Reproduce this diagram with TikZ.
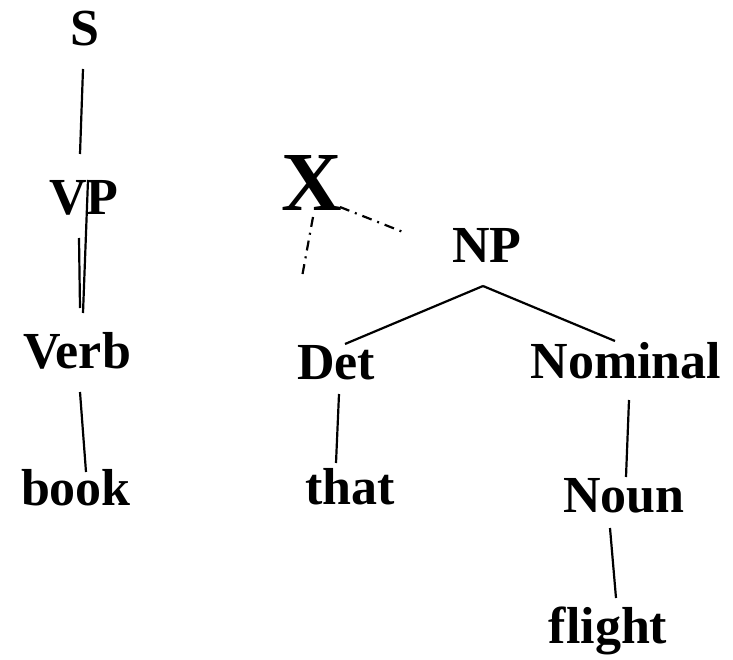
\documentclass[tikz,border=0pt]{standalone}
\usepackage{fontspec}
\setmainfont{Liberation Serif}
\usepackage{tikz}
\usetikzlibrary{calc}

\begin{document}
\begin{tikzpicture}[
  x=1pt, y=-1pt,
  cat/.style={font=\bfseries\fontsize{52}{60}\selectfont, inner sep=0pt, anchor=base},
  bigcat/.style={font=\bfseries\fontsize{84}{90}\selectfont, inner sep=0pt, anchor=base},
  branch/.style={line width=2.2pt, draw=black},
  broken/.style={line width=2.2pt, draw=black, dash pattern=on 10pt off 6pt on 2pt off 6pt}
]
\useasboundingbox (0,0) rectangle (733,660);
\node[cat] (s) at (85,46) {S};
\node[cat] (vp) at (84,215) {VP};
\node[cat] (verb) at (77,368) {Verb};
\node[cat] (book) at (76,505) {book};
\node[bigcat] (x) at (312,211) {X};
\node[cat] (np) at (487,262) {NP};
\node[cat] (det) at (336,379) {Det};
\node[cat] (nominal) at (626,378) {Nominal};
\node[cat] (that) at (350,504) {that};
\node[cat] (noun) at (624,512) {Noun};
\node[cat] (flight) at (608,643) {flight};
\coordinate (loose) at (302,277);
\draw[branch] ($(s.base)+(-2,23)$) -- ($(vp.base)+(-4,-61)$);
\draw[branch] ($(vp.base)+(4,-35)$) -- ($(verb.base)+(6,-55)$);
\draw[branch] ($(vp.base)+(-5,23)$) -- ($(verb.base)+(3,-60)$);
\draw[branch] ($(verb.base)+(3,24)$) -- ($(book.base)+(10,-33)$);
\draw[broken] ($(x.base)+(28,-4)$) -- ($(np.base)+(-84,-30)$);
\draw[broken] ($(x.base)+(1,6)$) -- (loose);
\draw[branch] ($(np.base)+(-4,24)$) -- ($(det.base)+(9,-35)$);
\draw[branch] ($(np.base)+(-4,24)$) -- ($(nominal.base)+(-11,-37)$);
\draw[branch] ($(det.base)+(3,15)$) -- ($(that.base)+(-14,-41)$);
\draw[branch] ($(nominal.base)+(3,22)$) -- ($(noun.base)+(2,-35)$);
\draw[branch] ($(noun.base)+(-14,16)$) -- ($(flight.base)+(8,-45)$);
\end{tikzpicture}
\end{document}
